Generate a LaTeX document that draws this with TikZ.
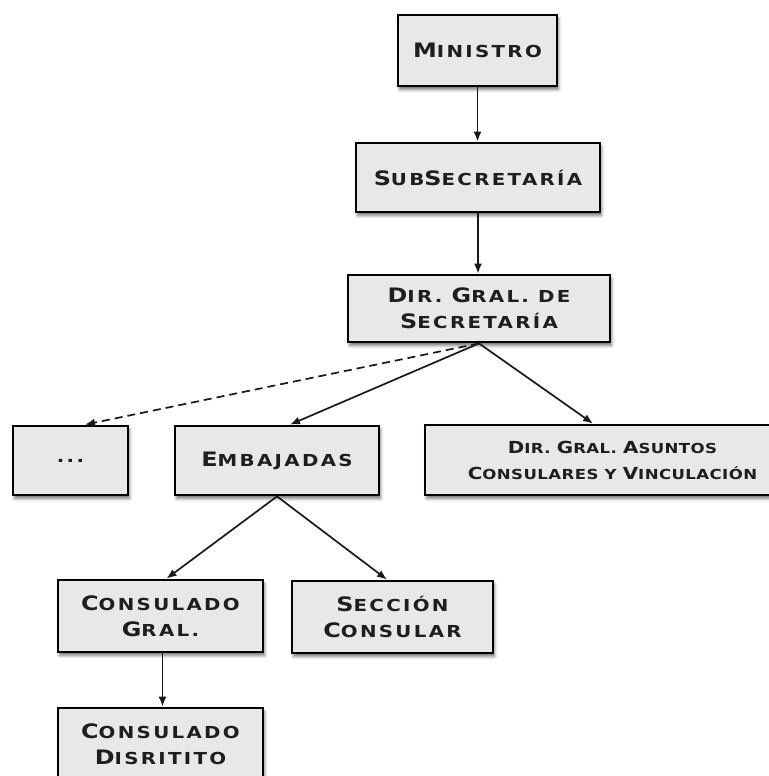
\documentclass[tikz,border=0pt]{standalone}
\usepackage{fontspec}
\usetikzlibrary{arrows.meta,shadows.blur}
% wide engraved-style caps
\newfontfamily\copperfont[FakeStretch=1.2,LetterSpace=14]{DejaVu Sans}
\newfontfamily\coppernarrow[FakeStretch=1.2,LetterSpace=3]{DejaVu Sans}
\newcommand\Ini[1]{{\fontsize{19.9}{25.7}\selectfont #1}}
\newcommand\IniS[1]{{\fontsize{16.6}{26}\selectfont #1}}
\definecolor{boxfill}{HTML}{E8E8E8}
\definecolor{ink}{HTML}{1E1E1E}
\begin{document}
\begin{tikzpicture}[x=1pt,y=-1pt,
  unit/.style={draw=black, line width=2.8pt, fill=boxfill, rectangle,
    inner sep=0pt, align=center, text=ink,
    font=\copperfont\bfseries\fontsize{16.5}{25.7}\selectfont,
    blur shadow={shadow xshift=1.5pt,shadow yshift=-3.5pt,
                 shadow blur radius=3pt,shadow opacity=55}},
  link/.style={line width=1.7pt, draw=black!90,
    -{Latex[length=10pt,width=8pt]}},
  optional/.style={link, dash pattern=on 8pt off 5pt},
]
\useasboundingbox (0,0) rectangle (768,776);

% offices
\node[unit, minimum width=159pt, minimum height=71pt] (min) at (477.5,50.5)
  {\Ini{M}INISTRO};
\node[unit, minimum width=244pt, minimum height=69pt] (sub) at (478,177.5)
  {\Ini{S}UB\Ini{S}ECRETARÍA};
\node[unit, minimum width=262pt, minimum height=67pt] (dir) at (479,308.5)
  {\Ini{D}IR. \Ini{G}RAL. DE\\\Ini{S}ECRETARÍA};
\node[unit, minimum width=115pt, minimum height=69pt] (dots) at (70.5,460.5)
  {...};
\node[unit, minimum width=204pt, minimum height=69pt] (emb) at (277,460.5)
  {\Ini{E}MBAJADAS};
\node[unit, minimum width=375pt, minimum height=70pt,
      font=\coppernarrow\bfseries\fontsize{13.8}{26}\selectfont] (asu) at (612.5,460)
  {\IniS{D}IR. \IniS{G}RAL. \IniS{A}SUNTOS\\\IniS{C}ONSULARES Y \IniS{V}INCULACIÓN};
\node[unit, minimum width=205pt, minimum height=72pt] (cg) at (160.5,616)
  {\Ini{C}ONSULADO\\\Ini{G}RAL.};
\node[unit, minimum width=201pt, minimum height=72pt] (sec) at (392.5,617)
  {\Ini{S}ECCIÓN\\\Ini{C}ONSULAR};
\node[unit, minimum width=205pt, minimum height=72pt] (cd) at (160.5,744)
  {\Ini{C}ONSULADO\\\Ini{D}ISRITITO};

% reporting lines
\draw[link] (min.south) -- (min.south |- sub.north);
\draw[link] (sub.south) -- (sub.south |- dir.north);
\draw[optional] (dir.south) -- ([xshift=14.5pt]dots.north);
\draw[link] (dir.south) -- ([xshift=13pt]emb.north);
\draw[link] (dir.south) -- ([xshift=-19.5pt]asu.north);
\draw[link] (emb.south) -- ([xshift=6pt]cg.north);
\draw[link] (emb.south) -- ([xshift=-5.5pt]sec.north);
\draw[link] ([xshift=2pt]cg.south) -- ([xshift=2pt]cd.north);
\end{tikzpicture}
\end{document}
